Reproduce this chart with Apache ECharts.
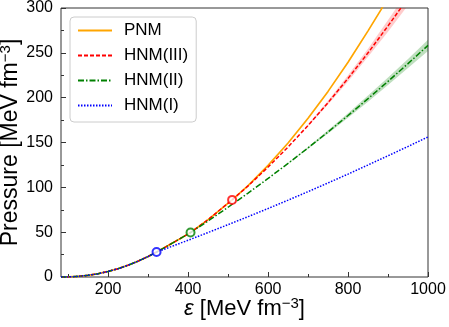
<!DOCTYPE html>
<html>
<head>
<meta charset="utf-8">
<script src="https://cdn.jsdelivr.net/npm/echarts@6/dist/echarts.min.js"></script>
<style>
html, body { margin: 0; padding: 0; background: #fff; }
#main { width: 449px; height: 327px; }
</style>
</head>
<body>
<div id="main"></div>
<script>
// low-density part shared by every curve (eps, pressure)
const baseE = [82, 100, 125, 150, 175, 200, 225, 250, 275, 300, 321]
const baseP = [0, 0.1, 0.7, 1.9, 3.7, 6.2, 9.3, 13.2, 17.7, 22.9, 27.8]

// PNM
const pnmE = [350, 380, 406, 450, 510, 550, 600, 650, 700, 750, 800, 850, 883, 900]
const pnmP = [35.1, 42.8, 49.6, 64, 86, 102, 124.5, 149.5, 177, 207, 239.5, 274.5, 298.5, 311.5]

// HNM(III), follows PNM up to 510
const h3E = [350, 380, 406, 450, 510, 550, 600, 650, 700, 750, 800, 850, 900, 933, 950]
const h3P = [35.1, 42.8, 49.6, 64, 86, 101.6, 122.6, 145, 169, 194.5, 221.5, 250, 280, 300.5, 311]

// HNM(II), leaves at 406
const h2E = [350, 380, 406, 450, 500, 550, 600, 650, 700, 750, 800, 850, 900, 950, 1000]
const h2P = [35.1, 42.8, 49.6, 62.5, 77.8, 93.6, 109.9, 126.7, 144, 161.8, 180.1, 198.9, 218.2, 238, 258.3]

// HNM(I), leaves at 321
const h1E = [350, 400, 450, 500, 550, 600, 650, 700, 750, 800, 850, 900, 950, 1000]
const h1P = [32.6, 41, 49.6, 58.4, 67.3, 76.4, 85.7, 95.2, 104.9, 114.8, 124.9, 135.2, 145.6, 156.2]

// uncertainty bands
const h3BandE = [700, 750, 800, 850, 900, 950]
const h3BandLo = [168, 192.5, 218, 245.5, 273.5, 303]
const h3BandHi = [170, 196.5, 225, 254.5, 286.5, 319]
const h2BandE = [650, 700, 750, 800, 850, 900, 950, 1000]
const h2BandLo = [126.2, 143, 160, 177.5, 195.5, 214, 233, 252]
const h2BandHi = [127.2, 145, 163.6, 182.7, 202.3, 222.4, 243, 264.6]

// transition points (circles)
const h1Mark = [[321, 27.8]]
const h2Mark = [[406, 49.6]]
const h3Mark = [[510, 86]]

const xTicks = [200, 400, 600, 800, 1000]
const xMinorTicks = [100, 300, 500, 700, 900]

const FONT = 'Liberation Sans, Arial, sans-serif'

function pairs(e, p) {
  return e.map((v, i) => [v, p[i]])
}
function curve(e, p) {
  return pairs(baseE.concat(e), baseP.concat(p))
}

function band(E, lo, hi, color) {
  return {
    type: 'custom',
    clip: true,
    silent: true,
    z: 1,
    data: E.map((e, i) => [e, lo[i], hi[i]]),
    encode: { x: 0, y: [1, 2] },
    renderItem: function (params, api) {
      if (params.dataIndex !== 0) return
      let pts = []
      for (let i = 0; i < E.length; i++) pts.push(api.coord([E[i], lo[i]]))
      for (let i = E.length - 1; i >= 0; i--) pts.push(api.coord([E[i], hi[i]]))
      return { type: 'polygon', shape: { points: pts }, style: { fill: color } }
    }
  }
}

function line(name, data, color, type, width) {
  return {
    name: name,
    type: 'line',
    data: data,
    symbol: 'none',
    clip: true,
    z: 2,
    lineStyle: { color: color, width: width, type: type },
    itemStyle: { color: color }
  }
}

function mark(name, data, color) {
  return {
    name: name,
    type: 'scatter',
    data: data,
    symbol: 'emptyCircle',
    symbolSize: 8,
    z: 3,
    itemStyle: { color: color, borderColor: color, borderWidth: 1.5 }
  }
}

let myChart = echarts.init(document.getElementById('main'))
let option = {
  animation: false,
  grid: {
    left: 61, right: 21, top: 8, bottom: 50,
    outerBoundsMode: 'none',
    show: true, borderColor: '#333', borderWidth: 1
  },
  legend: {
    data: ['PNM', 'HNM(III)', 'HNM(II)', 'HNM(I)'],
    orient: 'vertical',
    left: 70,
    top: 17,
    itemWidth: 34,
    itemHeight: 14,
    itemGap: 8,
    itemTextGap: 14,
    padding: [5, 8, 8, 7],
    borderColor: '#ccc',
    borderWidth: 1,
    borderRadius: 4,
    backgroundColor: 'rgba(255,255,255,0.8)',
    itemStyle: { opacity: 0 },
    textStyle: { fontSize: 17, fontFamily: FONT, color: '#000', lineHeight: 16, padding: [0, 0, 0, 7] }
  },
  xAxis: [
    {
      type: 'value',
      min: 82,
      max: 1000,
      name: '{i|ε} {t|[MeV fm}{s|−3}{t|]}',
      nameLocation: 'middle',
      nameGap: 19,
      nameMoveOverlap: false,
      nameTextStyle: {
        fontSize: 22, fontFamily: FONT, color: '#000',
        rich: {
          i: { fontSize: 22, fontStyle: 'italic', fontFamily: FONT, lineHeight: 26 },
          t: { fontSize: 22, fontFamily: FONT, lineHeight: 26 },
          s: { fontSize: 15, fontFamily: FONT, verticalAlign: 'top', lineHeight: 14 }
        }
      },
      axisLine: { show: false },
      axisTick: { inside: true, length: 5, customValues: xTicks, lineStyle: { color: '#333' } },
      axisLabel: {
        customValues: xTicks, fontSize: 16, fontFamily: FONT, color: '#000', margin: 5,
        formatter: v => String(v)
      },
      splitLine: { show: false }
    },
    {
      type: 'value',
      min: 82,
      max: 1000,
      position: 'bottom',
      axisLine: { show: false },
      axisTick: { inside: true, length: 3, customValues: xMinorTicks, lineStyle: { color: '#333' } },
      axisLabel: { show: false },
      splitLine: { show: false }
    }
  ],
  yAxis: {
    type: 'value',
    min: 0,
    max: 300,
    interval: 50,
    name: '{t|Pressure [MeV fm}{s|−3}{t|]}',
    nameLocation: 'middle',
    nameRotate: 90,
    nameGap: 37,
    nameMoveOverlap: false,
    nameTextStyle: {
      fontSize: 23, fontFamily: FONT, color: '#000',
      rich: {
        t: { fontSize: 23, fontFamily: FONT, lineHeight: 26 },
        s: { fontSize: 15, fontFamily: FONT, verticalAlign: 'top', lineHeight: 14 }
      }
    },
    axisLine: { show: false },
    axisTick: { inside: true, length: 5, lineStyle: { color: '#333' } },
    minorTick: { show: true, splitNumber: 2, length: 3, lineStyle: { color: '#333' } },
    axisLabel: { fontSize: 16, fontFamily: FONT, color: '#000', margin: 8 },
    splitLine: { show: false },
    minorSplitLine: { show: false }
  },
  series: [
    band(h3BandE, h3BandLo, h3BandHi, 'rgba(255,0,0,0.2)'),
    band(h2BandE, h2BandLo, h2BandHi, 'rgba(0,128,0,0.25)'),
    line('PNM', curve(pnmE, pnmP), '#FFA500', 'solid', 1.7),
    line('HNM(III)', curve(h3E, h3P), '#FF0000', [4, 2], 1.5),
    line('HNM(II)', curve(h2E, h2P), '#008000', [6, 2, 1.5, 2], 1.5),
    line('HNM(I)', curve(h1E, h1P), '#0000FF', [1.5, 1.5], 1.5),
    mark('c3', h3Mark, '#FF0000'),
    mark('c2', h2Mark, '#008000'),
    mark('c1', h1Mark, '#0000FF')
  ]
}
myChart.setOption(option)
</script>
</body>
</html>
